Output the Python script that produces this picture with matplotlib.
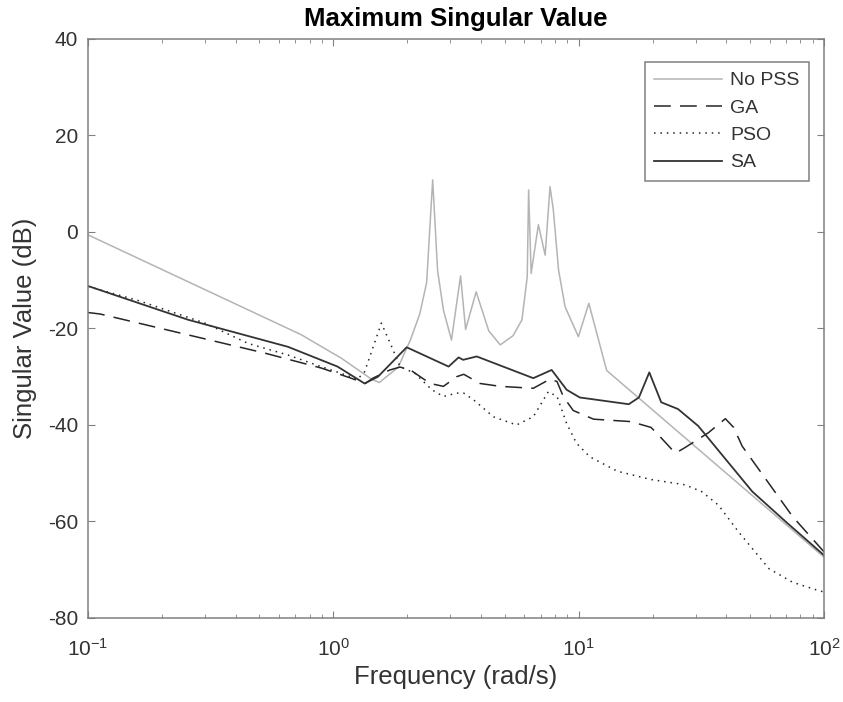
import matplotlib
matplotlib.use('Agg')
import matplotlib.pyplot as plt
import numpy as np

plt.rcParams['font.family'] = ['Liberation Sans', 'DejaVu Sans']
plt.rcParams['mathtext.fontset'] = 'custom'
plt.rcParams['mathtext.rm'] = 'Liberation Sans'
plt.rcParams['mathtext.it'] = 'Liberation Sans'
plt.rcParams['mathtext.bf'] = 'Liberation Sans:bold'
plt.rcParams['axes.unicode_minus'] = False

# No PSS (light grey)
freqNoPss = [0.1, 0.74, 1.08, 1.43, 1.54, 1.84, 2.06, 2.25, 2.40, 2.54, 2.66, 2.81, 3.03,
             3.30, 3.46, 3.82, 4.30, 4.79, 5.40, 5.87, 6.17, 6.25, 6.40, 6.85, 7.30, 7.64,
             7.88, 8.28, 8.8, 9.97, 11.0, 13.0, 100]
dbNoPss = [-0.6, -21.3, -26.2, -30.5, -31.2, -28.0, -22.4, -17.0, -10.5, 10.8, -8.0, -16.2, -22.4,
           -9.1, -20.2, -12.4, -20.5, -23.4, -21.5, -18.2, -9.3, 8.7, -8.6, 1.5, -4.8, 9.4,
           4.6, -7.9, -15.5, -21.7, -14.8, -28.7, -67.4]

# GA (dashed)
freqGa = [0.1, 0.112, 0.525, 0.893, 1.18, 1.35, 1.45, 1.70, 1.87, 2.06, 2.48, 2.81, 3.18, 3.40,
          3.54, 3.96, 4.79, 6.53, 7.64, 8.16, 8.67, 9.5, 11.5, 16.3, 19.7, 21.0, 23.9, 24.9,
          27.1, 33.8, 39.6, 42.8, 46.4, 74.5, 100]
dbGa = [-16.7, -17.0, -25.1, -28.2, -30.3, -31.4, -30.3, -28.6, -28.0, -28.6, -31.4, -32.0, -30.0, -29.5,
        -30.0, -31.4, -32.0, -32.4, -30.5, -31.0, -34.2, -37.0, -38.8, -39.3, -40.5, -41.9, -45.0, -45.8,
        -44.7, -41.6, -38.7, -40.5, -44.4, -59.0, -66.3]

# PSO (dotted)
freqPso = [0.1, 0.16, 0.30, 0.449, 0.653, 0.89, 1.18, 1.25, 1.34, 1.57, 1.73, 1.87, 2.15, 2.52,
           2.81, 3.18, 3.40, 3.73, 4.49, 5.58, 6.53, 7.52, 8.16, 8.93, 9.8, 11.1, 14.4, 19.7,
           27.1, 31.7, 37.1, 44.9, 59.7, 74.5, 95.9, 100]
dbPso = [-11.3, -14.2, -18.9, -23.1, -25.5, -27.9, -30.0, -30.6, -29.0, -18.9, -23.8, -27.9, -29.3, -32.7,
         -34.1, -33.4, -33.4, -34.8, -38.3, -40.0, -38.3, -33.1, -34.1, -39.7, -43.8, -46.6, -49.6, -51.3,
         -52.4, -53.8, -56.6, -62.2, -69.8, -72.6, -74.4, -74.6]

# SA (solid dark)
freqSa = [0.1, 0.256, 0.653, 1.04, 1.34, 1.52, 1.99, 2.95, 3.24, 3.38, 3.84, 6.53, 7.76, 8.93,
          10.1, 16.0, 17.6, 19.4, 21.7, 25.4, 30.7, 51.0, 70.0, 100]
dbSa = [-11.2, -18.2, -23.8, -27.9, -31.4, -30.0, -23.9, -27.9, -26.0, -26.5, -25.8, -30.3, -28.6, -32.7,
        -34.3, -35.7, -34.3, -29.1, -35.3, -36.7, -40.2, -53.8, -60.1, -67.0]

seriesNames = ['No PSS', 'GA', 'PSO', 'SA']

fig = plt.figure(figsize=(8.43, 7.02), dpi=100)
ax = fig.add_axes([0.1044, 0.1197, 0.8731, 0.8248])

ax.semilogx(freqNoPss, dbNoPss, color='#b4b4b4', lw=1.1, label=seriesNames[0])
ax.semilogx(freqGa, dbGa, color='#262626', lw=1.1, dashes=(11, 6), label=seriesNames[1])
ax.semilogx(freqPso, dbPso, color='#262626', lw=1.1, dashes=(1, 3.2), label=seriesNames[2])
ax.semilogx(freqSa, dbSa, color='#333333', lw=1.3, label=seriesNames[3])

ax.set_xlim(0.1, 100)
ax.set_ylim(-80, 40)
ax.set_yticks(np.arange(-80, 41, 20))

textColor = '#333333'
for s in ax.spines.values():
    s.set_color('#808080')
    s.set_linewidth(1.1)
ax.tick_params(which='both', direction='in', top=True, right=True, colors='#808080',
               labelcolor=textColor)
ax.tick_params(which='major', length=5)
ax.tick_params(which='minor', length=3)
ax.tick_params(axis='y', labelsize=15, pad=7)
ax.tick_params(axis='x', labelsize=15, pad=14)

ax.set_title('Maximum Singular Value', fontsize=18.5, fontweight='bold', color='black', pad=9)
ax.set_xlabel('Frequency (rad/s)', fontsize=18.5, color=textColor, labelpad=4)
ax.set_ylabel('Singular Value (dB)', fontsize=18.5, color=textColor, labelpad=8)

leg = ax.legend(loc='upper right', bbox_to_anchor=(0.98, 0.96), borderaxespad=0,
                fontsize=14, fancybox=False, framealpha=1, handlelength=3.5,
                handletextpad=0.4, labelspacing=0.5, borderpad=0.5)
leg.get_frame().set_edgecolor('#808080')
leg.get_frame().set_linewidth(1.1)
for t in leg.get_texts():
    t.set_color(textColor)

fig.savefig('out.png', dpi=100)
